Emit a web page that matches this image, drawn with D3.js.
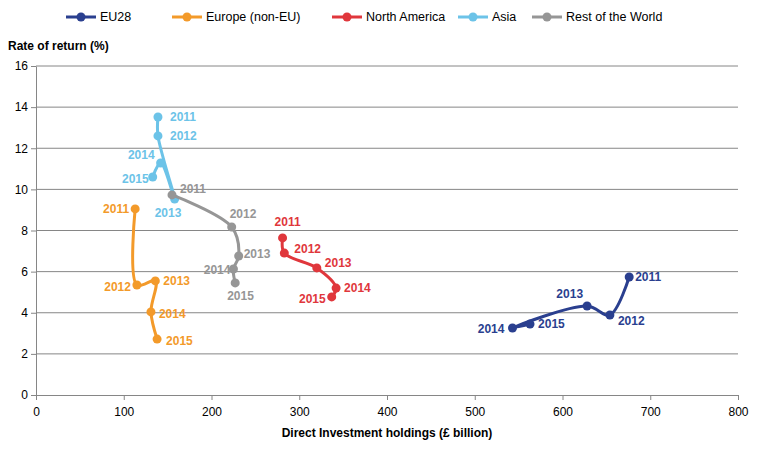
<!DOCTYPE html>
<html>
<head>
<meta charset="utf-8">
<script src="https://d3js.org/d3.v7.min.js"></script>
<style>
body { margin: 0; background: #fff; font-family: Arial, "Liberation Sans", sans-serif; }
</style>
</head>
<body>
<svg id="chart" width="758" height="456"></svg>
<script>
// data: [holdings £bn, rate %]
var years = ["2011", "2012", "2013", "2014", "2015"];
var eu28 = [[676, 5.74], [654, 3.89], [628, 4.33], [543, 3.26], [563, 3.45]];
var europeNonEu = [[113, 9.05], [115, 5.35], [136, 5.55], [131, 4.04], [138, 2.72]];
var northAmerica = [[281, 7.64], [283, 6.9], [320, 6.18], [342, 5.2], [337, 4.77]];
var asia = [[139, 13.52], [139, 12.6], [158, 9.53], [142, 11.28], [133, 10.6]];
var restOfWorld = [[155, 9.73], [223, 8.17], [231, 6.76], [225, 6.13], [227, 5.45]];
var xTicks = [0, 100, 200, 300, 400, 500, 600, 700, 800];
var yTicks = [0, 2, 4, 6, 8, 10, 12, 14, 16];

// label offsets [dx, dy, anchor] for each year
var series = [
  { name: "EU28", color: "#2a3f8f", data: eu28,
    labels: [[6, 4, "start"], [8, 10, "start"], [-4, -8, "end"], [-8, 5, "end"], [8, 4, "start"]] },
  { name: "Europe (non-EU)", color: "#f39a2a", data: europeNonEu,
    labels: [[-6, 4, "end"], [-6, 6, "end"], [8, 4, "start"], [8, 6, "start"], [9, 6, "start"]] },
  { name: "North America", color: "#e0373c", data: northAmerica,
    labels: [[-8, -12, "start"], [10, 0, "start"], [8, -1, "start"], [8, 4, "start"], [-6, 6, "end"]] },
  { name: "Asia", color: "#6cc3e8", data: asia,
    labels: [[12, 4, "start"], [12, 4, "start"], [-20, 18, "start"], [-6, -4, "end"], [-4, 6, "end"]] },
  { name: "Rest of the World", color: "#969696", data: restOfWorld,
    labels: [[8, -2, "start"], [-2, -9, "start"], [5, 2, "start"], [-3, 5, "end"], [-8, 17, "start"]] }
];

var svg = d3.select("#chart");
var x = d3.scaleLinear().domain([0, 800]).range([36, 738]);
var y = d3.scaleLinear().domain([0, 16]).range([395, 66]);

// gridlines
svg.append("g").selectAll("line").data(yTicks.slice(1)).enter().append("line")
  .attr("x1", x(0)).attr("x2", x(800))
  .attr("y1", function(d) { return y(d); }).attr("y2", function(d) { return y(d); })
  .attr("stroke", "#868686").attr("stroke-width", 1);

// axes
var xAxis = svg.append("g").attr("transform", "translate(0," + y(0) + ")")
  .call(d3.axisBottom(x).tickValues(xTicks).tickSize(5).tickSizeOuter(0));
var yAxis = svg.append("g").attr("transform", "translate(" + x(0) + ",0)")
  .call(d3.axisLeft(y).tickValues(yTicks).tickSize(5).tickSizeOuter(0));
[xAxis, yAxis].forEach(function(a) {
  a.selectAll("path, line").attr("stroke", "#868686");
  a.selectAll("text").attr("font-size", 12).attr("fill", "#000").attr("font-family", "Arial, Liberation Sans, sans-serif");
});
xAxis.selectAll("text").attr("dy", "1.1em");

svg.append("text").attr("x", 387).attr("y", 437).attr("text-anchor", "middle")
  .attr("font-size", 12).attr("font-weight", "bold").text("Direct Investment  holdings (£ billion)");
svg.append("text").attr("x", 8).attr("y", 50)
  .attr("font-size", 12).attr("font-weight", "bold").text("Rate of return (%)");

var line = d3.line().curve(d3.curveCatmullRom.alpha(0.5))
  .x(function(d) { return x(d[0]); }).y(function(d) { return y(d[1]); });

series.forEach(function(s) {
  var g = svg.append("g");
  g.append("path").datum(s.data).attr("d", line)
    .attr("fill", "none").attr("stroke", s.color).attr("stroke-width", 3);
  g.selectAll("circle").data(s.data).enter().append("circle")
    .attr("cx", function(d) { return x(d[0]); }).attr("cy", function(d) { return y(d[1]); })
    .attr("r", 4.5).attr("fill", s.color);
  g.selectAll("text").data(s.data).enter().append("text")
    .attr("x", function(d, i) { return x(d[0]) + s.labels[i][0]; })
    .attr("y", function(d, i) { return y(d[1]) + s.labels[i][1]; })
    .attr("text-anchor", function(d, i) { return s.labels[i][2]; })
    .attr("font-size", 12).attr("font-weight", "bold").attr("fill", s.color)
    .text(function(d, i) { return years[i]; });
});

// legend
var legendX = [66, 172, 332, 458, 532];
var lg = svg.append("g").selectAll("g").data(series).enter().append("g")
  .attr("transform", function(d, i) { return "translate(" + legendX[i] + ",17)"; });
lg.append("line").attr("x1", 0).attr("x2", 30).attr("stroke", function(d) { return d.color; }).attr("stroke-width", 3);
lg.append("circle").attr("cx", 15).attr("r", 4.5).attr("fill", function(d) { return d.color; });
lg.append("text").attr("x", 34).attr("y", 4).attr("font-size", 12.5).text(function(d) { return d.name; });
</script>
</body>
</html>
